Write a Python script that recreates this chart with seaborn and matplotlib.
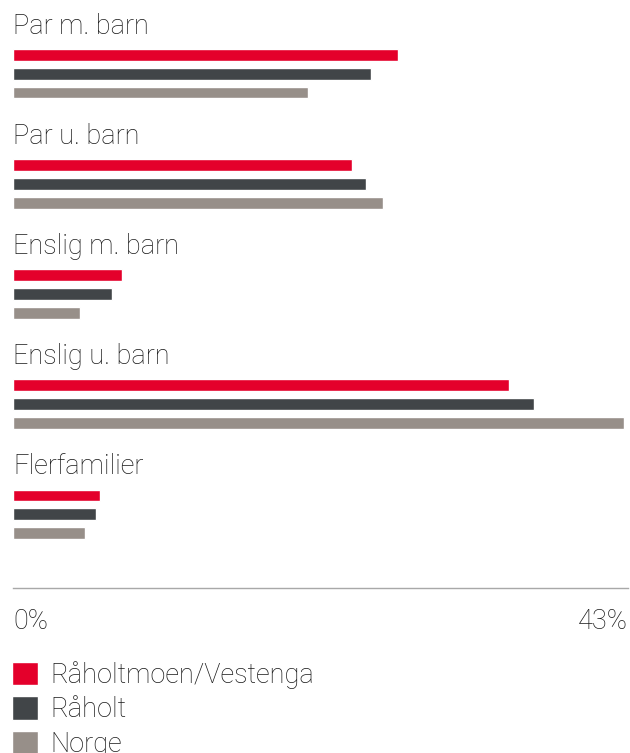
import matplotlib
matplotlib.use("Agg")
import matplotlib.pyplot as plt
import numpy as np
import pandas as pd
import seaborn as sns

categories = ["Par m. barn", "Par u. barn", "Enslig m. barn", "Enslig u. barn", "Flerfamilier"]
series = ["Råholtmoen/Vestenga", "Råholt", "Norge"]
raholtmoen = [26.9, 23.7, 7.6, 34.7, 6.1]
raholt = [25.0, 24.7, 6.9, 36.4, 5.8]
norge = [20.6, 25.9, 4.7, 42.7, 5.0]
tick_vals = [0, 43]
tick_labels = ["0%", "43%"]
colors = ["#E4002B", "#414548", "#978F89"]

rows = []
for name, vals in zip(series, [raholtmoen, raholt, norge]):
    for cat, v in zip(categories, vals):
        rows.append({"kategori": cat, "andel": v, "omrade": name})
df = pd.DataFrame(rows)

sns.set_style("white")
plt.rcParams["font.family"] = ["Roboto", "DejaVu Sans"]
fs = 19.5

fig = plt.figure(figsize=(6.3, 7.53), dpi=100)
ax = fig.add_axes([13 / 630, 1 - 588 / 753, 615 / 630, 588 / 753])

sns.barplot(data=df, y="kategori", x="andel", hue="omrade", order=categories,
            hue_order=series, palette=colors, orient="h", width=0.518, gap=0.42,
            saturation=1, errorbar=None, ax=ax, legend=True)

ax.set_xlim(0, 43)
ax.set_ylim(4.6727, -0.6727)

for i, cat in enumerate(categories):
    ax.text(0, i - 0.3636, cat, ha="left", va="baseline", fontsize=fs,
            fontweight="light", color="#1a1a1a")

ax.set_yticks([])
ax.set_ylabel("")
ax.set_xlabel("")
ax.set_xticks(tick_vals)
ax.set_xticklabels(tick_labels, fontsize=fs, fontweight="light", color="#1a1a1a")
labs = ax.get_xticklabels()
labs[0].set_horizontalalignment("left")
labs[1].set_horizontalalignment("right")
ax.tick_params(axis="x", length=0, pad=14.5)

for s in ["top", "right", "left"]:
    ax.spines[s].set_visible(False)
ax.spines["bottom"].set_color("#a8a8a8")
ax.spines["bottom"].set_linewidth(1)

handles, labels = ax.get_legend_handles_labels()
ax.legend(handles, labels, loc="upper left", bbox_to_anchor=(12 / 630, 1 - 661 / 753),
          bbox_transform=fig.transFigure, frameon=False, borderpad=0, borderaxespad=0,
          handlelength=0.95, handleheight=0.95, handletextpad=0.47,
          labelspacing=0.27, prop={"weight": "light", "size": fs})
for t in ax.get_legend().get_texts():
    t.set_color("#1a1a1a")

fig.savefig("out.png", dpi=100)
